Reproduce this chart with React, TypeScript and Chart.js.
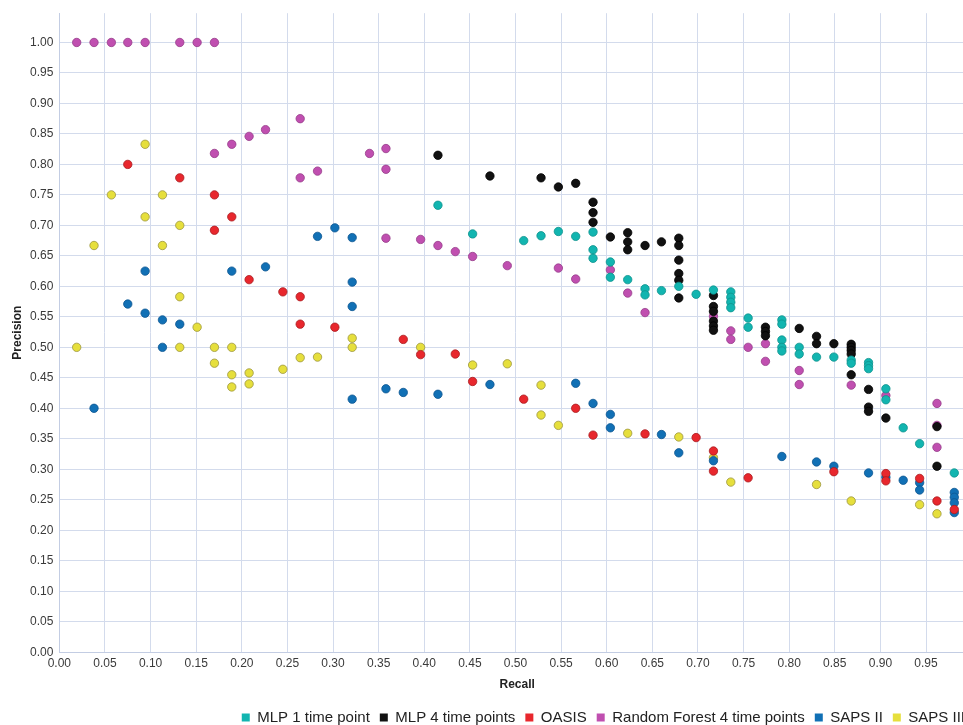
import React, { useEffect, useRef } from "react";
import { Chart, registerables } from "chart.js";

Chart.register(...registerables);

// Recall (x) and precision (y) per model
const mlp1X = [0.415, 0.453, 0.509, 0.528, 0.547, 0.566, 0.585, 0.585, 0.585, 0.604, 0.604, 0.623, 0.642, 0.642, 0.660, 0.679, 0.698, 0.717, 0.736, 0.736, 0.736, 0.736, 0.755, 0.755, 0.792, 0.792, 0.792, 0.792, 0.792, 0.811, 0.811, 0.830, 0.849, 0.868, 0.868, 0.887, 0.887, 0.887, 0.906, 0.906, 0.925, 0.943, 0.981];
const mlp1Y = [0.733, 0.686, 0.675, 0.683, 0.690, 0.682, 0.689, 0.660, 0.646, 0.640, 0.615, 0.611, 0.596, 0.586, 0.593, 0.600, 0.587, 0.594, 0.591, 0.582, 0.574, 0.565, 0.548, 0.533, 0.545, 0.538, 0.512, 0.500, 0.494, 0.500, 0.489, 0.484, 0.484, 0.479, 0.474, 0.475, 0.470, 0.465, 0.432, 0.414, 0.368, 0.342, 0.294];

const mlp4X = [0.415, 0.472, 0.528, 0.547, 0.566, 0.585, 0.585, 0.585, 0.604, 0.623, 0.623, 0.623, 0.642, 0.660, 0.679, 0.679, 0.679, 0.679, 0.679, 0.679, 0.717, 0.717, 0.717, 0.717, 0.717, 0.717, 0.774, 0.774, 0.774, 0.811, 0.830, 0.830, 0.849, 0.868, 0.868, 0.868, 0.868, 0.868, 0.887, 0.887, 0.887, 0.906, 0.962, 0.962];
const mlp4Y = [0.815, 0.781, 0.778, 0.763, 0.769, 0.738, 0.721, 0.705, 0.681, 0.688, 0.673, 0.660, 0.667, 0.673, 0.679, 0.667, 0.643, 0.621, 0.610, 0.581, 0.585, 0.567, 0.559, 0.543, 0.535, 0.528, 0.533, 0.526, 0.519, 0.531, 0.518, 0.506, 0.506, 0.505, 0.500, 0.495, 0.489, 0.455, 0.431, 0.402, 0.395, 0.384, 0.370, 0.305];

const oasisX = [0.075, 0.132, 0.170, 0.170, 0.189, 0.208, 0.245, 0.264, 0.264, 0.302, 0.377, 0.396, 0.434, 0.453, 0.509, 0.566, 0.585, 0.642, 0.698, 0.717, 0.717, 0.755, 0.849, 0.906, 0.906, 0.943, 0.962, 0.981];
const oasisY = [0.800, 0.778, 0.750, 0.692, 0.714, 0.611, 0.591, 0.583, 0.538, 0.533, 0.513, 0.488, 0.489, 0.444, 0.415, 0.400, 0.356, 0.358, 0.352, 0.330, 0.297, 0.286, 0.296, 0.293, 0.281, 0.285, 0.248, 0.234];

const rfX = [0.019, 0.038, 0.057, 0.075, 0.094, 0.132, 0.151, 0.170, 0.170, 0.189, 0.208, 0.226, 0.264, 0.264, 0.283, 0.340, 0.358, 0.358, 0.358, 0.396, 0.415, 0.434, 0.453, 0.491, 0.547, 0.566, 0.604, 0.623, 0.642, 0.717, 0.736, 0.736, 0.755, 0.774, 0.774, 0.811, 0.811, 0.868, 0.906, 0.962, 0.962, 0.962];
const rfY = [1.000, 1.000, 1.000, 1.000, 1.000, 1.000, 1.000, 1.000, 0.818, 0.833, 0.846, 0.857, 0.875, 0.778, 0.789, 0.818, 0.826, 0.792, 0.679, 0.677, 0.667, 0.657, 0.649, 0.634, 0.630, 0.612, 0.627, 0.589, 0.557, 0.551, 0.527, 0.513, 0.500, 0.506, 0.477, 0.462, 0.439, 0.438, 0.421, 0.408, 0.372, 0.336];

const saps2X = [0.038, 0.075, 0.094, 0.094, 0.113, 0.113, 0.132, 0.189, 0.226, 0.283, 0.302, 0.321, 0.321, 0.321, 0.321, 0.358, 0.377, 0.415, 0.472, 0.566, 0.585, 0.604, 0.604, 0.660, 0.679, 0.717, 0.792, 0.830, 0.849, 0.887, 0.906, 0.925, 0.943, 0.943, 0.981, 0.981, 0.981, 0.981];
const saps2Y = [0.400, 0.571, 0.625, 0.556, 0.545, 0.500, 0.538, 0.625, 0.632, 0.682, 0.696, 0.680, 0.607, 0.567, 0.415, 0.432, 0.426, 0.423, 0.439, 0.441, 0.408, 0.390, 0.368, 0.357, 0.327, 0.314, 0.321, 0.312, 0.305, 0.294, 0.287, 0.282, 0.278, 0.266, 0.262, 0.254, 0.245, 0.229];

const saps3X = [0.019, 0.038, 0.057, 0.094, 0.094, 0.113, 0.113, 0.132, 0.132, 0.132, 0.151, 0.170, 0.170, 0.189, 0.189, 0.189, 0.208, 0.208, 0.245, 0.264, 0.283, 0.321, 0.321, 0.396, 0.453, 0.491, 0.528, 0.528, 0.547, 0.623, 0.679, 0.717, 0.736, 0.830, 0.868, 0.943, 0.962];
const saps3Y = [0.500, 0.667, 0.750, 0.833, 0.714, 0.750, 0.667, 0.700, 0.583, 0.500, 0.533, 0.500, 0.474, 0.500, 0.455, 0.435, 0.458, 0.440, 0.464, 0.483, 0.484, 0.515, 0.500, 0.500, 0.471, 0.473, 0.438, 0.389, 0.372, 0.359, 0.353, 0.319, 0.279, 0.275, 0.248, 0.242, 0.227];

const seriesNames = ["MLP 1 time point", "MLP 4 time points", "OASIS", "Random Forest 4 time points", "SAPS II", "SAPS III"];
const fillColors = ["#12b5b0", "#111111", "#e8272d", "#c04fb0", "#1170b5", "#e6df3c"];
const edgeColors = ["#0e928d", "#000000", "#a81c20", "#963c89", "#0c5590", "#9c9640"];

const xTickMax = 0.95;
const yTickMax = 1.0;

const FONT = "'Liberation Sans', Arial, Helvetica, sans-serif";

function zip(xs: number[], ys: number[]) {
  return xs.map((x, i) => ({ x, y: ys[i] }));
}

export default function App() {
  const ref = useRef<HTMLCanvasElement | null>(null);

  useEffect(() => {
    document.body.style.margin = "0";
    document.body.style.overflow = "hidden";
    const all = [
      zip(mlp1X, mlp1Y),
      zip(mlp4X, mlp4Y),
      zip(oasisX, oasisY),
      zip(rfX, rfY),
      zip(saps2X, saps2Y),
      zip(saps3X, saps3Y),
    ];
    const chart = new Chart(ref.current as HTMLCanvasElement, {
      type: "scatter",
      data: {
        datasets: all.map((d, i) => ({
          label: seriesNames[i],
          data: d,
          backgroundColor: fillColors[i],
          borderColor: edgeColors[i],
          borderWidth: 0.8,
          pointRadius: 4.2,
          pointHoverRadius: 4.2,
        })),
      },
      options: {
        animation: false,
        responsive: true,
        maintainAspectRatio: false,
        layout: { autoPadding: false, padding: { left: 5, top: 8, right: 0, bottom: 0 } },
        plugins: {
          tooltip: { enabled: false },
          legend: {
            position: "bottom",
            align: "end",
            labels: {
              boxWidth: 8,
              boxHeight: 8,
              padding: 10,
              color: "#222",
              font: { family: FONT, size: 15 },
              generateLabels: (c: any) =>
                c.data.datasets.map((ds: any, i: number) => ({
                  text: ds.label,
                  fillStyle: fillColors[i],
                  strokeStyle: fillColors[i],
                  lineWidth: 0,
                  datasetIndex: i,
                  hidden: false,
                  fontColor: "#222",
                })),
            },
          },
        },
        scales: {
          x: {
            type: "linear",
            min: 0,
            max: 1.0037,
            afterBuildTicks: (s: any) => {
              s.ticks = s.ticks.filter((t: any) => t.value <= xTickMax + 1e-6);
            },
            ticks: {
              stepSize: 0.05,
              includeBounds: false,
              padding: 4,
              color: "#3a3a3a",
              font: { family: FONT, size: 12 },
              callback: (v: any) => Number(v).toFixed(2),
            },
            grid: { color: "#d3dbec", drawTicks: false, lineWidth: 1 },
            border: { color: "#c3cde3" },
            title: {
              display: true,
              text: "Recall",
              color: "#222",
              font: { family: FONT, size: 12, weight: "bold" },
              padding: { top: 3, bottom: 8 },
            },
          },
          y: {
            type: "linear",
            min: 0,
            max: 1.048,
            afterBuildTicks: (s: any) => {
              s.ticks = s.ticks.filter((t: any) => t.value <= yTickMax + 1e-6);
            },
            ticks: {
              stepSize: 0.05,
              includeBounds: false,
              padding: 6,
              color: "#3a3a3a",
              font: { family: FONT, size: 12 },
              callback: (v: any) => Number(v).toFixed(2),
            },
            grid: { color: "#d3dbec", drawTicks: false, lineWidth: 1 },
            border: { color: "#c3cde3" },
            title: {
              display: true,
              text: "Precision",
              color: "#222",
              font: { family: FONT, size: 12, weight: "bold", lineHeight: 1 },
              padding: { top: 7, bottom: 0 },
            },
          },
        },
      },
    } as any);
    return () => chart.destroy();
  }, []);

  return (
    <div style={{ position: "relative", width: "975px", height: "735px" }}>
      <canvas ref={ref} />
    </div>
  );
}
